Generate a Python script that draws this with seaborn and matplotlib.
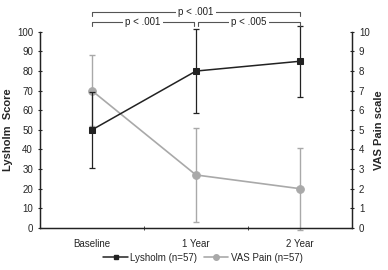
import numpy as np
import pandas as pd
import matplotlib
matplotlib.use("Agg")
import matplotlib.pyplot as plt
import seaborn as sns

# data
timepoints = ["Baseline", "1 Year", "2 Year"]
lysholm_mean = [50, 80, 85]
lysholm_sd = [19.5, 21.5, 18]
vas_mean = [7.0, 2.7, 2.0]
vas_sd = [1.8, 2.4, 2.1]
pvals = ["p < .001", "p < .005", "p < .001"]
pairs = [(0, 1), (1, 2), (0, 2)]

sns.set_style("ticks")
plt.rcParams["font.family"] = ["Liberation Sans", "DejaVu Sans"]

dark = "#222222"
grey = "#a9a9a9"

fig = plt.figure(figsize=(3.88, 2.70), dpi=100)
ax = fig.add_axes([0.103, 0.156, 0.804, 0.726])
ax2 = ax.twinx()

x = np.arange(len(timepoints)) + 0.5
df = pd.DataFrame({"x": x, "lysholm": lysholm_mean, "vas": vas_mean})

# VAS on right axis (drawn first, behind)
ax2.errorbar(x, vas_mean, yerr=vas_sd, fmt="none", ecolor=grey, elinewidth=1,
             capsize=2, capthick=1, clip_on=False)
sns.lineplot(data=df, x="x", y="vas", ax=ax2, color=grey, marker="o",
             markersize=5.5, markeredgecolor=grey, linewidth=1.2, legend=False)
ax2.set_ylim(0, 10)
ax2.set_yticks(range(0, 11))
ax2.set_ylabel("VAS Pain scale", fontsize=8, fontweight="bold", labelpad=3)

ax.set_zorder(ax2.get_zorder() + 1)
ax.patch.set_visible(False)
ax.errorbar(x, lysholm_mean, yerr=lysholm_sd, fmt="none", ecolor=dark,
            elinewidth=0.9, capsize=2, capthick=0.9, clip_on=False)
sns.lineplot(data=df, x="x", y="lysholm", ax=ax, color=dark, marker="s",
             markersize=4.5, markeredgecolor=dark, linewidth=1.1, legend=False)
ax.set_ylim(0, 100)
ax.set_yticks(range(0, 101, 10))
ax.set_xlim(0, 3)
ax.set_xticks(x)
ax.set_xticklabels(timepoints)
ax.set_xticks([1, 2], minor=True)
ax.tick_params(axis="x", which="major", length=0, pad=8, labelsize=7)
ax.tick_params(axis="x", which="minor", length=3, direction="inout")
ax.tick_params(axis="y", labelsize=7, length=3, direction="inout")
ax2.tick_params(axis="y", labelsize=7, length=3, direction="inout")
ax.set_xlabel("")
ax.set_ylabel("Lysholm  Score", fontsize=8, fontweight="bold", labelpad=3)

for a in (ax, ax2):
    a.spines["top"].set_visible(False)
    for s in ("left", "right", "bottom"):
        a.spines[s].set_linewidth(0.9)
        a.spines[s].set_color(dark)

# significance brackets
levels = [105, 105, 110]
for (i, j), p, yl in zip(pairs, pvals, levels):
    x0, x1 = x[i] + (0.02 if i > 0 and yl < 110 else 0), x[j] - (0.02 if yl < 110 and j < 2 else 0)
    ax.plot([x0, x0, x1, x1], [yl - 2, yl, yl, yl - 2], color="#555555",
            linewidth=0.8, clip_on=False)
    ax.text((x0 + x1) / 2, yl, p, ha="center", va="center", fontsize=7,
            color="#222222", clip_on=False,
            bbox=dict(facecolor="white", edgecolor="none", pad=1.5))

handles = [
    plt.Line2D([], [], color=dark, marker="s", markersize=3, linewidth=1.1),
    plt.Line2D([], [], color=grey, marker="o", markersize=4, linewidth=1.2),
]
fig.legend(handles, ["Lysholm (n=57)", "VAS Pain (n=57)"], loc="center",
           bbox_to_anchor=(0.523, 0.045), ncol=2, frameon=False, fontsize=7,
           handlelength=2.5, columnspacing=0.7, handletextpad=0.25)

fig.savefig("out.png", dpi=100)
